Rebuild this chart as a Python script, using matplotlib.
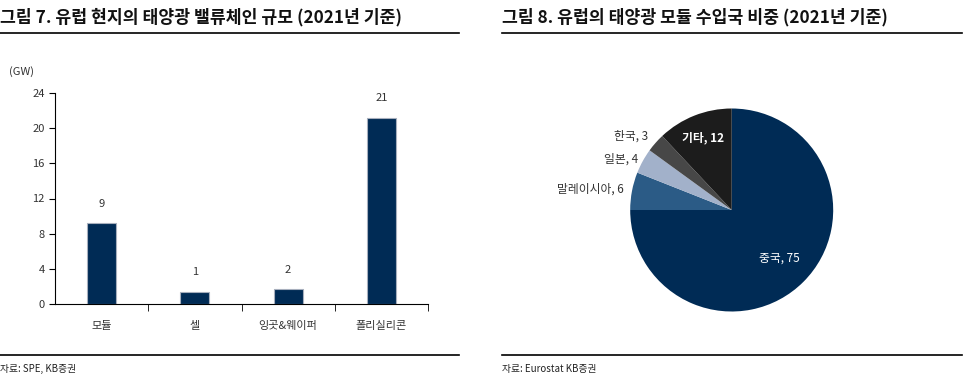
import numpy as np
import matplotlib
matplotlib.use('Agg')
import matplotlib.pyplot as plt
from matplotlib.lines import Line2D

plt.rcParams['font.family'] = ['Noto Sans CJK KR', 'DejaVu Sans']

# 데이터
bar_cats = ['모듈', '셀', '잉곳&웨이퍼', '폴리실리콘']
bar_vals = [9.2, 1.4, 1.7, 21.2]
bar_labels = ['9', '1', '2', '21']
y_ticks = [0, 4, 8, 12, 16, 20, 24]

pie_names = ['중국', '말레이시아', '일본', '한국', '기타']
pie_vals = [75, 6, 4, 3, 12]
pie_colors = ['#002b55', '#2b5b86', '#a2b1ca', '#474747', '#1c1c1c']
pie_dist = [0.67, 1.08, 1.05, 1.1, 0.76]

W, H = 964, 387
fig = plt.figure(figsize=(W / 100, H / 100), dpi=100)

def fx(px):
    return px / W

def fy(py):
    return 1 - py / H

# 제목과 선
fig.text(fx(0), fy(17), '그림 7. 유럽 현지의 태양광 밸류체인 규모 (2021년 기준)',
         fontsize=12.4, fontweight='bold', va='center', ha='left', color='#111111')
fig.text(fx(502), fy(17), '그림 8. 유럽의 태양광 모듈 수입국 비중 (2021년 기준)',
         fontsize=12.4, fontweight='bold', va='center', ha='left', color='#111111')
for x0, x1 in [(0, 459), (502, 962)]:
    fig.add_artist(Line2D([fx(x0), fx(x1)], [fy(33), fy(33)], color='black', lw=1.2))
    fig.add_artist(Line2D([fx(x0), fx(x1)], [fy(355), fy(355)], color='black', lw=1.2))
fig.text(fx(0), fy(369), '자료: SPE, KB증권', fontsize=7, va='center', color='#222222')
fig.text(fx(502), fy(369), '자료: Eurostat KB증권', fontsize=7, va='center', color='#222222')

# 막대 그래프
ax = fig.add_axes([fx(55), fy(304), fx(428 - 55), (304 - 93) / H])
x = np.arange(len(bar_cats))
bars = ax.bar(x, bar_vals, width=0.31, color='#002b55', edgecolor='#a7afbd', linewidth=0.8)
for xi, v, lab in zip(x, bar_vals, bar_labels):
    ax.text(xi, v + 2.2, lab, ha='center', va='center', fontsize=8, color='#333333')
ax.set_xlim(-0.5, len(bar_cats) - 0.5)
ax.set_ylim(0, 24)
ax.set_yticks(y_ticks)
ax.set_xticks(x)
ax.set_xticklabels(bar_cats)
ax.set_xticks(np.arange(len(bar_cats)) + 0.5, minor=True)
ax.tick_params(axis='x', which='major', length=0, pad=12, labelsize=8, colors='#333333')
ax.tick_params(axis='x', which='minor', length=5, direction='out')
ax.tick_params(axis='y', length=4, direction='out', labelsize=8, colors='#333333')
ax.tick_params(axis='y', color='black')
ax.tick_params(axis='x', which='minor', color='black')
for s in ['top', 'right']:
    ax.spines[s].set_visible(False)
ax.text(-0.09, 1.1, '(GW)', transform=ax.transAxes, fontsize=8, color='#333333',
        ha='center', va='center')

# 파이 차트
r = 101.5
cx, cy = 731.7, 210
pax = fig.add_axes([fx(cx - r), fy(cy + r), 2 * r / W, 2 * r / H])
wedges, _ = pax.pie(pie_vals, colors=pie_colors, startangle=90, counterclock=False,
                    radius=1, wedgeprops=dict(linewidth=0))
pax.set_xlim(-1, 1)
pax.set_ylim(-1, 1)
pax.set_aspect('auto')
pax.axis('off')
for w, name, v, d in zip(wedges, pie_names, pie_vals, pie_dist):
    ang = np.deg2rad((w.theta1 + w.theta2) / 2)
    tx, ty = d * np.cos(ang), d * np.sin(ang)
    if d < 1:
        pax.text(tx, ty, f'{name}, {v}', ha='center', va='center', fontsize=8.5,
                 color='white', fontweight='bold' if name == '기타' else 'normal')
    else:
        pax.text(tx, ty, f'{name}, {v}', ha='right', va='center', fontsize=8.5,
                 color='#333333')

fig.savefig('out.png', dpi=100)
